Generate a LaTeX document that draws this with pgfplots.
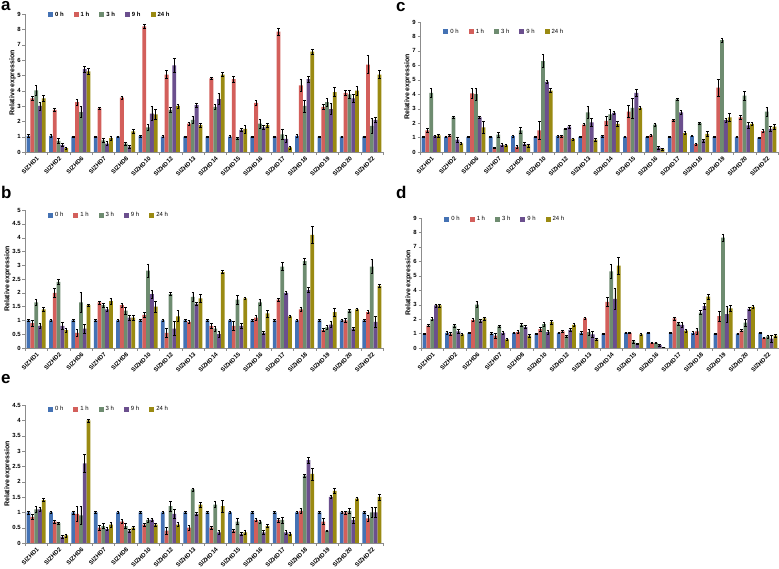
\documentclass[border=0pt]{standalone}
\usepackage{fontspec}
\setmainfont{Liberation Sans}
\usepackage{pgfplots}
\usepackage{pgfplotstable}
\pgfplotsset{compat=1.18}

\definecolor{h0col}{HTML}{4472B4}
\definecolor{h1col}{HTML}{D35F5B}
\definecolor{h3col}{HTML}{6E8C70}
\definecolor{h9col}{HTML}{6B4F8E}
\definecolor{h24col}{HTML}{9A8A12}
\definecolor{axgray}{HTML}{8C8C8C}

% columns: gene index, mean and error for 0 h, 1 h, 3 h, 9 h, 24 h
\pgfplotstableread{
g h0 e0 h1 e1 h3 e3 h9 e9 h24 e24
0 1.05 0.08 3.50 0.15 4.02 0.30 3.00 0.25 3.50 0.20
1 1.05 0.10 2.75 0.10 0.72 0.15 0.45 0.10 0.25 0.08
2 1.00 0.05 3.25 0.20 2.60 0.35 5.40 0.20 5.25 0.20
3 1.00 0.05 2.85 0.08 0.75 0.15 0.55 0.12 0.90 0.12
4 1.00 0.05 3.55 0.10 0.55 0.10 0.35 0.10 1.35 0.10
5 1.05 0.06 8.20 0.10 1.60 0.20 2.50 0.45 2.45 0.35
6 1.00 0.06 5.05 0.25 2.75 0.15 5.65 0.45 3.00 0.12
7 1.00 0.05 1.85 0.10 2.10 0.25 3.05 0.15 1.75 0.15
8 1.00 0.05 4.80 0.08 2.95 0.15 3.45 0.35 5.05 0.12
9 1.00 0.06 4.75 0.20 0.90 0.06 1.45 0.10 1.50 0.25
10 1.00 0.05 3.20 0.15 1.85 0.30 1.60 0.15 1.75 0.15
11 1.00 0.05 7.85 0.25 1.15 0.35 0.85 0.25 0.30 0.10
12 1.05 0.10 4.35 0.40 3.00 0.40 4.75 0.20 6.55 0.15
13 1.00 0.05 2.95 0.15 3.25 0.25 2.80 0.35 3.90 0.30
14 1.00 0.05 3.85 0.15 3.75 0.25 3.50 0.25 4.00 0.30
15 1.00 0.05 5.70 0.60 1.70 0.50 2.10 0.15 5.05 0.25
}\dataA

\pgfplotstableread{
g h0 e0 h1 e1 h3 e3 h9 e9 h24 e24
0 1.00 0.05 0.90 0.10 1.65 0.10 0.80 0.08 1.40 0.06
1 1.00 0.04 2.00 0.15 2.40 0.10 0.80 0.12 0.65 0.08
2 1.00 0.05 0.55 0.12 1.65 0.35 0.70 0.15 1.55 0.05
3 1.00 0.04 1.65 0.05 1.55 0.08 1.40 0.08 1.70 0.10
4 1.00 0.04 1.55 0.08 1.35 0.12 1.10 0.10 1.10 0.10
5 1.00 0.04 1.20 0.08 2.80 0.25 1.95 0.15 1.50 0.20
6 1.00 0.04 0.55 0.15 1.95 0.05 0.70 0.25 1.15 0.20
7 1.00 0.04 0.95 0.05 1.85 0.15 1.60 0.05 1.80 0.15
8 1.00 0.05 0.80 0.08 0.70 0.08 0.50 0.12 2.75 0.06
9 1.00 0.05 0.80 0.15 1.75 0.15 0.80 0.08 1.80 0.05
10 1.00 0.04 1.10 0.08 1.65 0.10 0.55 0.06 1.25 0.12
11 1.00 0.04 1.75 0.05 2.95 0.15 2.00 0.04 1.15 0.05
12 1.00 0.05 1.40 0.06 3.15 0.10 2.10 0.10 4.10 0.30
13 1.00 0.04 0.65 0.06 0.75 0.08 0.85 0.10 1.30 0.15
14 1.00 0.05 1.00 0.06 1.35 0.05 0.70 0.05 1.40 0.05
15 1.00 0.04 1.30 0.06 2.95 0.25 0.95 0.20 2.25 0.05
}\dataB

\pgfplotstableread{
g h0 e0 h1 e1 h3 e3 h9 e9 h24 e24
0 1.05 0.06 1.50 0.15 4.10 0.30 1.10 0.06 1.15 0.10
1 1.05 0.06 1.15 0.05 2.40 0.10 0.85 0.15 0.60 0.10
2 1.05 0.05 4.05 0.35 4.00 0.40 2.40 0.10 1.70 0.40
3 1.05 0.04 0.30 0.05 1.20 0.15 0.50 0.10 0.45 0.05
4 1.10 0.05 0.35 0.10 1.50 0.20 0.55 0.10 0.45 0.10
5 1.05 0.04 1.50 0.60 6.30 0.45 4.85 0.10 4.25 0.15
6 1.10 0.05 1.10 0.08 1.60 0.05 1.75 0.10 0.90 0.08
7 1.05 0.04 1.90 0.08 2.75 0.40 2.05 0.25 0.85 0.10
8 1.10 0.05 2.15 0.30 2.60 0.35 2.70 0.10 1.95 0.20
9 1.05 0.04 2.80 0.40 3.05 0.70 4.10 0.25 3.05 0.10
10 1.05 0.05 1.15 0.08 1.90 0.10 0.30 0.08 0.20 0.05
11 1.05 0.04 2.20 0.05 3.65 0.10 2.75 0.15 1.30 0.10
12 1.10 0.04 0.55 0.08 2.00 0.05 0.80 0.10 1.25 0.15
13 1.05 0.05 4.45 0.60 7.75 0.15 2.20 0.15 2.40 0.30
14 1.05 0.05 2.40 0.12 3.90 0.30 1.85 0.20 1.95 0.10
15 1.00 0.04 1.45 0.10 2.80 0.30 1.60 0.15 1.75 0.15
}\dataC

\pgfplotstableread{
g h0 e0 h1 e1 h3 e3 h9 e9 h24 e24
0 1.00 0.05 1.55 0.06 2.00 0.10 2.95 0.10 2.95 0.10
1 1.05 0.08 1.00 0.12 1.55 0.10 1.15 0.12 0.95 0.10
2 1.05 0.05 1.95 0.12 3.00 0.20 1.90 0.10 2.05 0.10
3 1.00 0.08 0.85 0.15 1.50 0.08 1.05 0.10 0.60 0.10
4 1.05 0.05 1.10 0.10 1.60 0.08 1.45 0.10 0.85 0.10
5 1.00 0.05 1.30 0.15 1.65 0.15 1.10 0.12 1.80 0.15
6 1.05 0.05 1.15 0.05 0.80 0.08 1.25 0.10 1.60 0.10
7 1.05 0.08 2.05 0.05 1.10 0.20 0.95 0.20 0.60 0.10
8 1.00 0.05 3.20 0.30 5.30 0.50 3.40 0.70 5.70 0.60
9 1.05 0.05 1.05 0.05 0.45 0.10 0.30 0.05 0.95 0.10
10 1.05 0.05 0.35 0.05 0.35 0.05 0.20 0.05 0.05 0.03
11 1.05 0.05 2.05 0.10 1.70 0.10 1.60 0.15 1.20 0.12
12 1.05 0.08 1.15 0.20 2.45 0.15 2.90 0.20 3.55 0.20
13 1.00 0.05 2.20 0.35 7.65 0.25 2.35 0.55 2.75 0.20
14 1.00 0.05 1.20 0.06 1.75 0.25 2.70 0.10 2.85 0.10
15 1.05 0.04 0.70 0.04 0.80 0.10 0.65 0.25 0.85 0.08
}\dataD

\pgfplotstableread{
g h0 e0 h1 e1 h3 e3 h9 e9 h24 e24
0 1.00 0.05 0.85 0.08 1.10 0.10 1.10 0.08 1.40 0.05
1 1.00 0.03 0.70 0.05 0.65 0.04 0.20 0.06 0.25 0.05
2 1.00 0.05 0.95 0.25 0.90 0.30 2.60 0.30 4.00 0.05
3 1.00 0.03 0.50 0.08 0.55 0.08 0.45 0.05 0.60 0.08
4 1.00 0.03 0.70 0.06 0.55 0.08 0.40 0.06 0.50 0.05
5 1.00 0.03 0.60 0.05 0.75 0.06 0.75 0.05 0.60 0.05
6 1.00 0.03 0.40 0.12 1.20 0.15 0.95 0.15 0.60 0.06
7 1.00 0.03 0.50 0.08 1.75 0.05 0.95 0.06 1.25 0.08
8 1.00 0.03 0.50 0.05 1.25 0.10 0.35 0.06 1.20 0.20
9 1.00 0.03 0.40 0.06 0.70 0.10 0.30 0.05 0.35 0.08
10 1.00 0.03 0.75 0.05 0.70 0.05 0.35 0.08 0.55 0.05
11 1.00 0.03 0.75 0.06 0.75 0.10 0.35 0.05 0.30 0.06
12 1.00 0.03 1.05 0.08 2.20 0.05 2.70 0.10 2.25 0.20
13 1.00 0.03 0.70 0.10 0.40 0.03 1.50 0.05 1.70 0.08
14 1.00 0.03 1.00 0.05 1.05 0.08 0.75 0.10 1.45 0.05
15 1.00 0.03 0.80 0.10 1.00 0.15 1.00 0.15 1.50 0.10
}\dataE

\pgfplotsset{
  zhd/.style={
    scale only axis, width=358bp, height=138bp,
    ybar=0pt, bar width=3.8bp,
    xmin=-0.5, xmax=15.5, enlarge x limits=false, ymin=0,
    xtick={0,...,15},
    xticklabels={SlZHD1,SlZHD2,SlZHD6,SlZHD7,SlZHD8,SlZHD10,SlZHD12,SlZHD13,
                 SlZHD14,SlZHD15,SlZHD16,SlZHD17,SlZHD18,SlZHD19,SlZHD20,SlZHD22},
    minor xtick={-0.5,0.5,...,15.5},
    major x tick style={draw=none},
    minor x tick style={axgray},
    minor tick length=3bp, major tick length=2.5bp,
    tick align=outside,
    axis x line*=bottom, axis y line*=left,
    axis line style={axgray, line width=0.6bp},
    y tick style={axgray},
    x tick label style={rotate=45, anchor=north east, inner sep=1pt,
                        font=\bfseries\fontsize{6}{6}\selectfont},
    y tick label style={font=\bfseries\fontsize{6}{7}\selectfont, inner sep=1.5pt},
    /pgf/number format/assume math mode=true,
    ylabel={Relative expression},
    ylabel style={font=\bfseries\fontsize{7}{8}\selectfont, inner sep=0pt},
    legend columns=5,
    legend style={draw=none, fill=none, inner sep=0pt, anchor=west,
                  font=\fontsize{6}{7}\selectfont,
                  /tikz/every even column/.append style={column sep=8bp}},
    legend image code/.code={\fill[##1] (0bp,-2.5bp) rectangle (5bp,2.5bp);},
    error bars/y dir=both, error bars/y explicit,
    error bars/error bar style={black, line width=0.6bp},
    error bars/error mark options={black, rotate=90, mark size=1.3bp, line width=0.6bp},
  }
}

\newcommand{\fivebars}[1]{%
  \addplot[fill=h0col, draw=none] table[x=g, y=h0, y error=e0] {#1};
  \addplot[fill=h1col, draw=none] table[x=g, y=h1, y error=e1] {#1};
  \addplot[fill=h3col, draw=none] table[x=g, y=h3, y error=e3] {#1};
  \addplot[fill=h9col, draw=none] table[x=g, y=h9, y error=e9] {#1};
  \addplot[fill=h24col, draw=none] table[x=g, y=h24, y error=e24] {#1};
  \legend{0 h,1 h,3 h,9 h,24 h}
}

\begin{document}
\begin{tikzpicture}
\useasboundingbox (0bp,0bp) rectangle (779bp,569bp);

% panel a
\begin{axis}[zhd, at={(25bp,417bp)}, anchor=south west, height=138bp,
  ymax=9, ytick={0,...,9},
  legend style={at={(rel axis cs:0.064,0.995)}, font=\bfseries\fontsize{6}{7}\selectfont}]
\fivebars{\dataA}
\end{axis}

% panel b
\begin{axis}[zhd, at={(25bp,221bp)}, anchor=south west, height=138bp,
  ymax=5, ytick={0,0.5,...,5},
  legend style={at={(rel axis cs:0.064,0.96)}}]
\fivebars{\dataB}
\end{axis}

% panel c
\begin{axis}[zhd, at={(420bp,417bp)}, anchor=south west, height=130bp,
  ymax=9, ytick={0,...,9},
  legend style={at={(rel axis cs:0.065,0.925)}}]
\fivebars{\dataC}
\end{axis}

% panel d
\begin{axis}[zhd, at={(421bp,221bp)}, anchor=south west, height=130bp,
  ymax=9, ytick={0,...,9},
  legend style={at={(rel axis cs:0.065,0.99)}}]
\fivebars{\dataD}
\end{axis}

% panel e
\begin{axis}[zhd, at={(25bp,26bp)}, anchor=south west, height=138bp,
  ymax=4.5, ytick={0,0.5,...,4.5},
  legend style={at={(rel axis cs:0.064,0.97)}}]
\fivebars{\dataE}
\end{axis}

\node[anchor=north west, inner sep=0pt, font=\bfseries\fontsize{17}{17}\selectfont] at (1bp,568bp) {a};
\node[anchor=north west, inner sep=0pt, font=\bfseries\fontsize{17}{17}\selectfont] at (1bp,383bp) {b};
\node[anchor=north west, inner sep=0pt, font=\bfseries\fontsize{17}{17}\selectfont] at (396bp,567bp) {c};
\node[anchor=north west, inner sep=0pt, font=\bfseries\fontsize{17}{17}\selectfont] at (396bp,383bp) {d};
\node[anchor=north west, inner sep=0pt, font=\bfseries\fontsize{17}{17}\selectfont] at (1bp,195bp) {e};
\end{tikzpicture}
\end{document}
